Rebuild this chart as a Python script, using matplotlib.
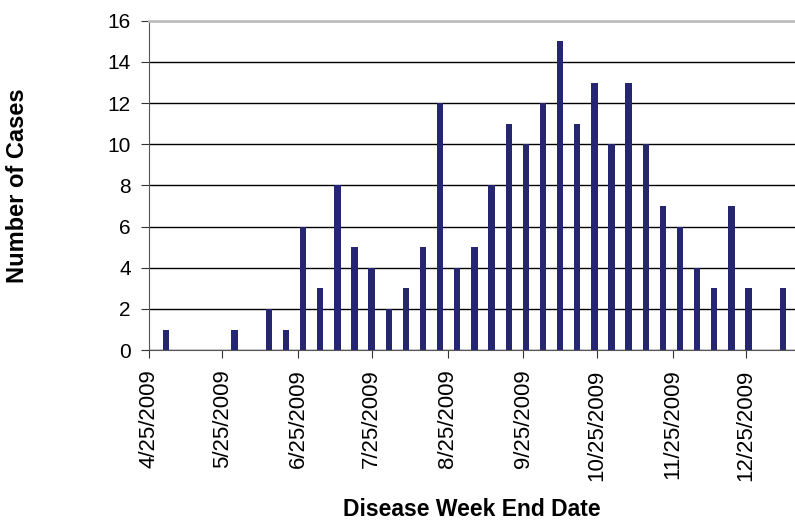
import matplotlib.pyplot as plt
import matplotlib.dates as mdates
import pandas as pd

plt.rcParams['font.family'] = ['Liberation Sans', 'DejaVu Sans']

# week end dates (Saturdays) with reported cases
weeks = ['2009-05-02', '2009-05-30', '2009-06-13', '2009-06-20', '2009-06-27',
         '2009-07-04', '2009-07-11', '2009-07-18', '2009-07-25', '2009-08-01',
         '2009-08-08', '2009-08-15', '2009-08-22', '2009-08-29', '2009-09-05',
         '2009-09-12', '2009-09-19', '2009-09-26', '2009-10-03', '2009-10-10',
         '2009-10-17', '2009-10-24', '2009-10-31', '2009-11-07', '2009-11-14',
         '2009-11-21', '2009-11-28', '2009-12-05', '2009-12-12', '2009-12-19',
         '2009-12-26', '2010-01-09']
cases = [1, 1, 2, 1, 6,
         3, 8, 5, 4, 2,
         3, 5, 12, 4, 5,
         8, 11, 10, 12, 15,
         11, 13, 10, 13, 10,
         7, 6, 4, 3, 7,
         3, 3]
dates = pd.to_datetime(weeks)

fig = plt.figure(figsize=(7.95, 5.21), dpi=100)
ax = fig.add_axes([0.1874, 0.328, 0.8126, 0.632])

ax.bar(dates, cases, width=2.6, color='#262670', zorder=3)

ax.set_xlim(pd.Timestamp('2009-04-25'), pd.Timestamp('2010-01-14'))
ax.set_ylim(0, 16)
ax.set_yticks(range(0, 17, 2))
ax.xaxis.set_major_locator(mdates.MonthLocator(bymonthday=25))
ax.xaxis.set_major_formatter(mdates.DateFormatter('%-m/%d/%Y'))
plt.setp(ax.get_xticklabels(), rotation=90)

ax.yaxis.grid(True, color='black', linewidth=1)
ax.set_axisbelow(True)

ax.spines['right'].set_visible(False)
ax.spines['top'].set_color('#c0c0c0')
ax.spines['top'].set_linewidth(2)
ax.spines['left'].set_color('#555555')
ax.spines['bottom'].set_color('#555555')
ax.tick_params(axis='both', length=6, color='#333333')
ax.tick_params(axis='y', labelsize=15, pad=7)
ax.tick_params(axis='x', labelsize=16, pad=8)

ax.set_ylabel('Number of Cases', fontsize=17, fontweight='bold', va='center')
ax.set_xlabel('Disease Week End Date', fontsize=16.5, fontweight='bold', va='center')
ax.yaxis.set_label_coords(-0.204, 0.5)
ax.xaxis.set_label_coords(0.5, -0.485)

fig.savefig('out.png', dpi=100)
